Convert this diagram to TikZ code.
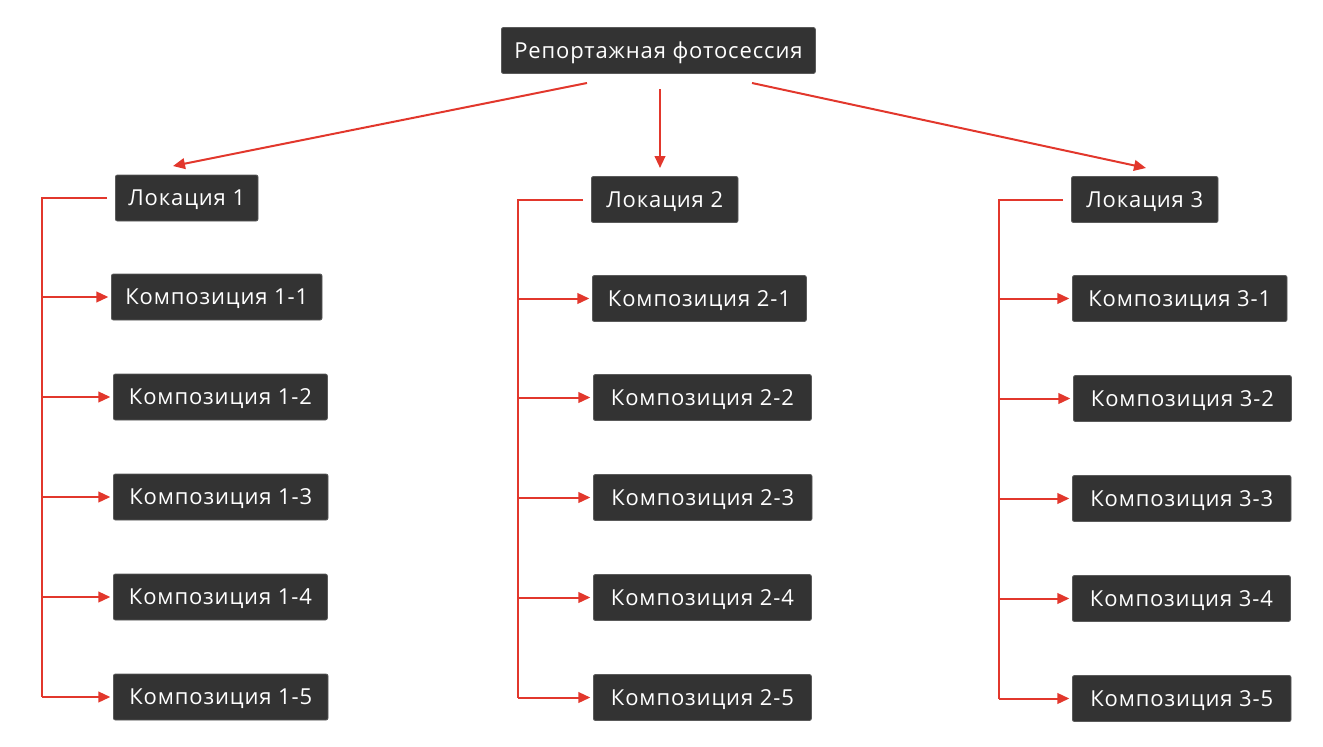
\documentclass[tikz,border=0pt]{standalone}
\usepackage{fontspec}
\setmainfont{Open Sans}[LetterSpace=4]
\usetikzlibrary{arrows.meta}
\definecolor{boxc}{HTML}{333333}
\definecolor{boxb}{HTML}{5A5A5A}
\definecolor{redc}{HTML}{E2372C}
\tikzset{
  box/.style={fill=boxc, draw=boxb, line width=0.6pt, rounded corners=1.5pt, text=white,
    font=\fontsize{16.5}{18}\selectfont, inner sep=0pt, text height=11.8pt, text depth=0pt,
    minimum height=34.5pt, anchor=west},
  link/.style={draw=redc, line width=1.5pt},
  arr/.style={link, -{Triangle[length=9pt,width=8pt]}, shorten >=2pt},
}
\begin{document}
\begin{tikzpicture}[x=0.75pt,y=-0.75pt]
\useasboundingbox (0,0) rectangle (1323,746);
\node[box, minimum width=235.5pt] (top) at (501,50.5) {Репортажная фотосессия};
\node[box, minimum width=107pt] (l1) at (115,198) {Локация 1};
\node[box, minimum width=110pt] (l2) at (591,199.5) {Локация 2};
\node[box, minimum width=110pt] (l3) at (1071,199.5) {Локация 3};
% column 1
\node[box, minimum width=158pt] (c11) at (111,297) {Композиция 1-1};
\node[box, minimum width=160.5pt] (c12) at (113,397) {Композиция 1-2};
\node[box, minimum width=161pt] (c13) at (113,497) {Композиция 1-3};
\node[box, minimum width=160.5pt] (c14) at (113,597) {Композиция 1-4};
\node[box, minimum width=161pt] (c15) at (113,697) {Композиция 1-5};
% column 2
\node[box, minimum width=160.5pt] (c21) at (592,298.5) {Композиция 2-1};
\node[box, minimum width=163.5pt] (c22) at (593,397.5) {Композиция 2-2};
\node[box, minimum width=164pt] (c23) at (593,497.5) {Композиция 2-3};
\node[box, minimum width=163.5pt] (c24) at (593,597.5) {Композиция 2-4};
\node[box, minimum width=163.5pt] (c25) at (593,697.5) {Композиция 2-5};
% column 3
\node[box, minimum width=161pt] (c31) at (1072,298.5) {Композиция 3-1};
\node[box, minimum width=163.5pt] (c32) at (1073,398.5) {Композиция 3-2};
\node[box, minimum width=164pt] (c33) at (1072,498.5) {Композиция 3-3};
\node[box, minimum width=163.5pt] (c34) at (1072,598.5) {Композиция 3-4};
\node[box, minimum width=164pt] (c35) at (1072,698.5) {Композиция 3-5};
% top arrows
\coordinate (t1) at (587,83);
\coordinate (t2) at (660,89);
\coordinate (t3) at (752,83);
\coordinate (e1) at (173,166);
\coordinate (e2) at (660,168);
\coordinate (e3) at (1146,168);
\draw[arr, shorten >=0pt] (t1) -- (e1);
\draw[arr, shorten >=0pt] (t2) -- (e2);
\draw[arr, shorten >=0pt] (t3) -- (e3);
% trunks
\foreach \l/\c/\x in {l1/c15/42, l2/c25/518, l3/c35/999}{
  \draw[link] ([xshift=-6pt]\l.west) -- (\x,0 |- \l.west) -- (\x,0 |- \c.west);
}
\foreach \c/\x in {c11/42,c12/42,c13/42,c14/42,c15/42,c21/518,c22/518,c23/518,c24/518,c25/518,c31/999,c32/999,c33/999,c34/999,c35/999}{
  \draw[arr] (\x,0 |- \c.west) -- (\c.west);
}
\end{tikzpicture}
\end{document}
